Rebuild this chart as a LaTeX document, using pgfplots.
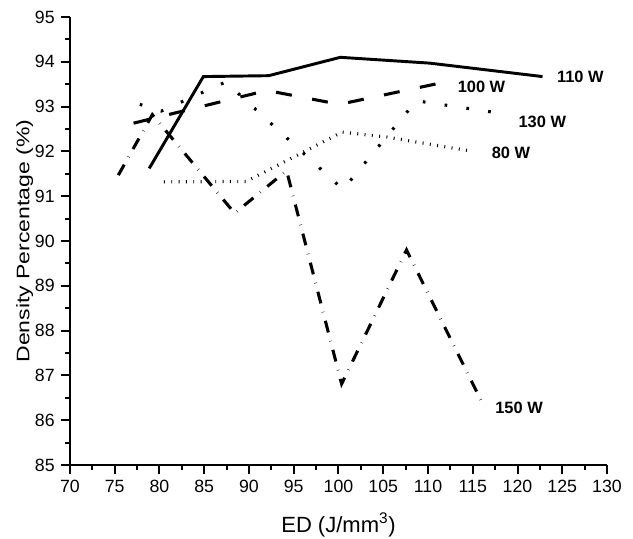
\documentclass[border=0pt]{standalone}
\usepackage{fontspec}
\setmainfont{Liberation Sans}
\newfontfamily\ylabfont{Liberation Sans}[FakeStretch=1.27]
\usepackage{pgfplots}
\pgfplotsset{compat=1.18}
\begin{document}
\begin{tikzpicture}
\begin{axis}[
  scale only axis, width=402.75pt, height=336pt,
  xmin=70, xmax=130, ymin=85, ymax=95,
  xtick distance=5, ytick distance=1,
  minor x tick num=1, minor y tick num=1,
  axis lines=left,
  axis line style={-, line width=1.7pt},
  tick align=outside, tick pos=left,
  major tick length=7pt, minor tick length=3.5pt,
  every tick/.style={black, line width=1.5pt},
  tick label style={font=\fontsize{13.3}{15}\selectfont},
  xticklabel style={yshift=-1pt},
  yticklabel style={xshift=-1pt},
  /pgf/number format/assume math mode=true,
  xlabel={ED (J/mm\textsuperscript{3})},
  ylabel={Density Percentage (\%)},
  every axis x label/.style={at={(axis description cs:0.5,0)}, yshift=-45pt, anchor=center, font=\fontsize{16.5}{19}\selectfont},
  every axis y label/.style={at={(axis description cs:0,0.5)}, xshift=-34pt, rotate=90, anchor=center, font=\ylabfont\fontsize{13.6}{16}\selectfont},
  clip=false,
]
\coordinate (SW) at (rel axis cs:0,0);
\coordinate (NE) at (rel axis cs:1,1);
% 110 W
\addplot[black, line width=2.2pt] coordinates {
(78.85,91.62) (84.9,93.67) (92.2,93.69) (100.2,94.1) (110.2,93.97) (122.8,93.67)};
% 100 W
\addplot[black, line width=2.3pt, dash pattern=on 12pt off 15.5pt] coordinates {
(77.1,92.63) (92.0,93.36) (100.1,93.05) (111.7,93.54)};
% 130 W
\addplot[black, line width=2.3pt, dash pattern=on 2pt off 14.5pt] coordinates {
(77.8,93.05) (80.2,92.9) (87.4,93.55) (100.5,91.15) (108.7,93.13) (118.8,92.83)};
% 80 W
\addplot[black, line width=2.4pt, dash pattern=on 0.7pt off 4.8pt] coordinates {
(80.5,91.32) (89.7,91.33) (100.4,92.43) (105.4,92.32) (115.0,92.0)};
% 150 W
\addplot[black, line width=2.3pt, dash pattern=on 9pt off 6.6pt on 0.3pt off 6.6pt] coordinates {
(75.4,91.47) (79.2,92.82) (88.4,90.62) (94.2,91.57) (100.35,86.81) (107.6,89.8) (116.0,86.41)};
\node[anchor=west, font=\bfseries\fontsize{12.3}{14}\selectfont] at (axis cs:123.9,93.66) {110 W};
\node[anchor=west, font=\bfseries\fontsize{12.3}{14}\selectfont] at (axis cs:112.8,93.44) {100 W};
\node[anchor=west, font=\bfseries\fontsize{12.3}{14}\selectfont] at (axis cs:119.6,92.66) {130 W};
\node[anchor=west, font=\bfseries\fontsize{12.3}{14}\selectfont] at (axis cs:116.6,91.96) {80 W};
\node[anchor=west, font=\bfseries\fontsize{12.3}{14}\selectfont] at (axis cs:117.0,86.27) {150 W};
\end{axis}
\pgfresetboundingbox
\path ([shift={(-52.5pt,-55.5pt)}]SW) rectangle ([shift={(19.5pt,12.75pt)}]NE);
\end{tikzpicture}
\end{document}
